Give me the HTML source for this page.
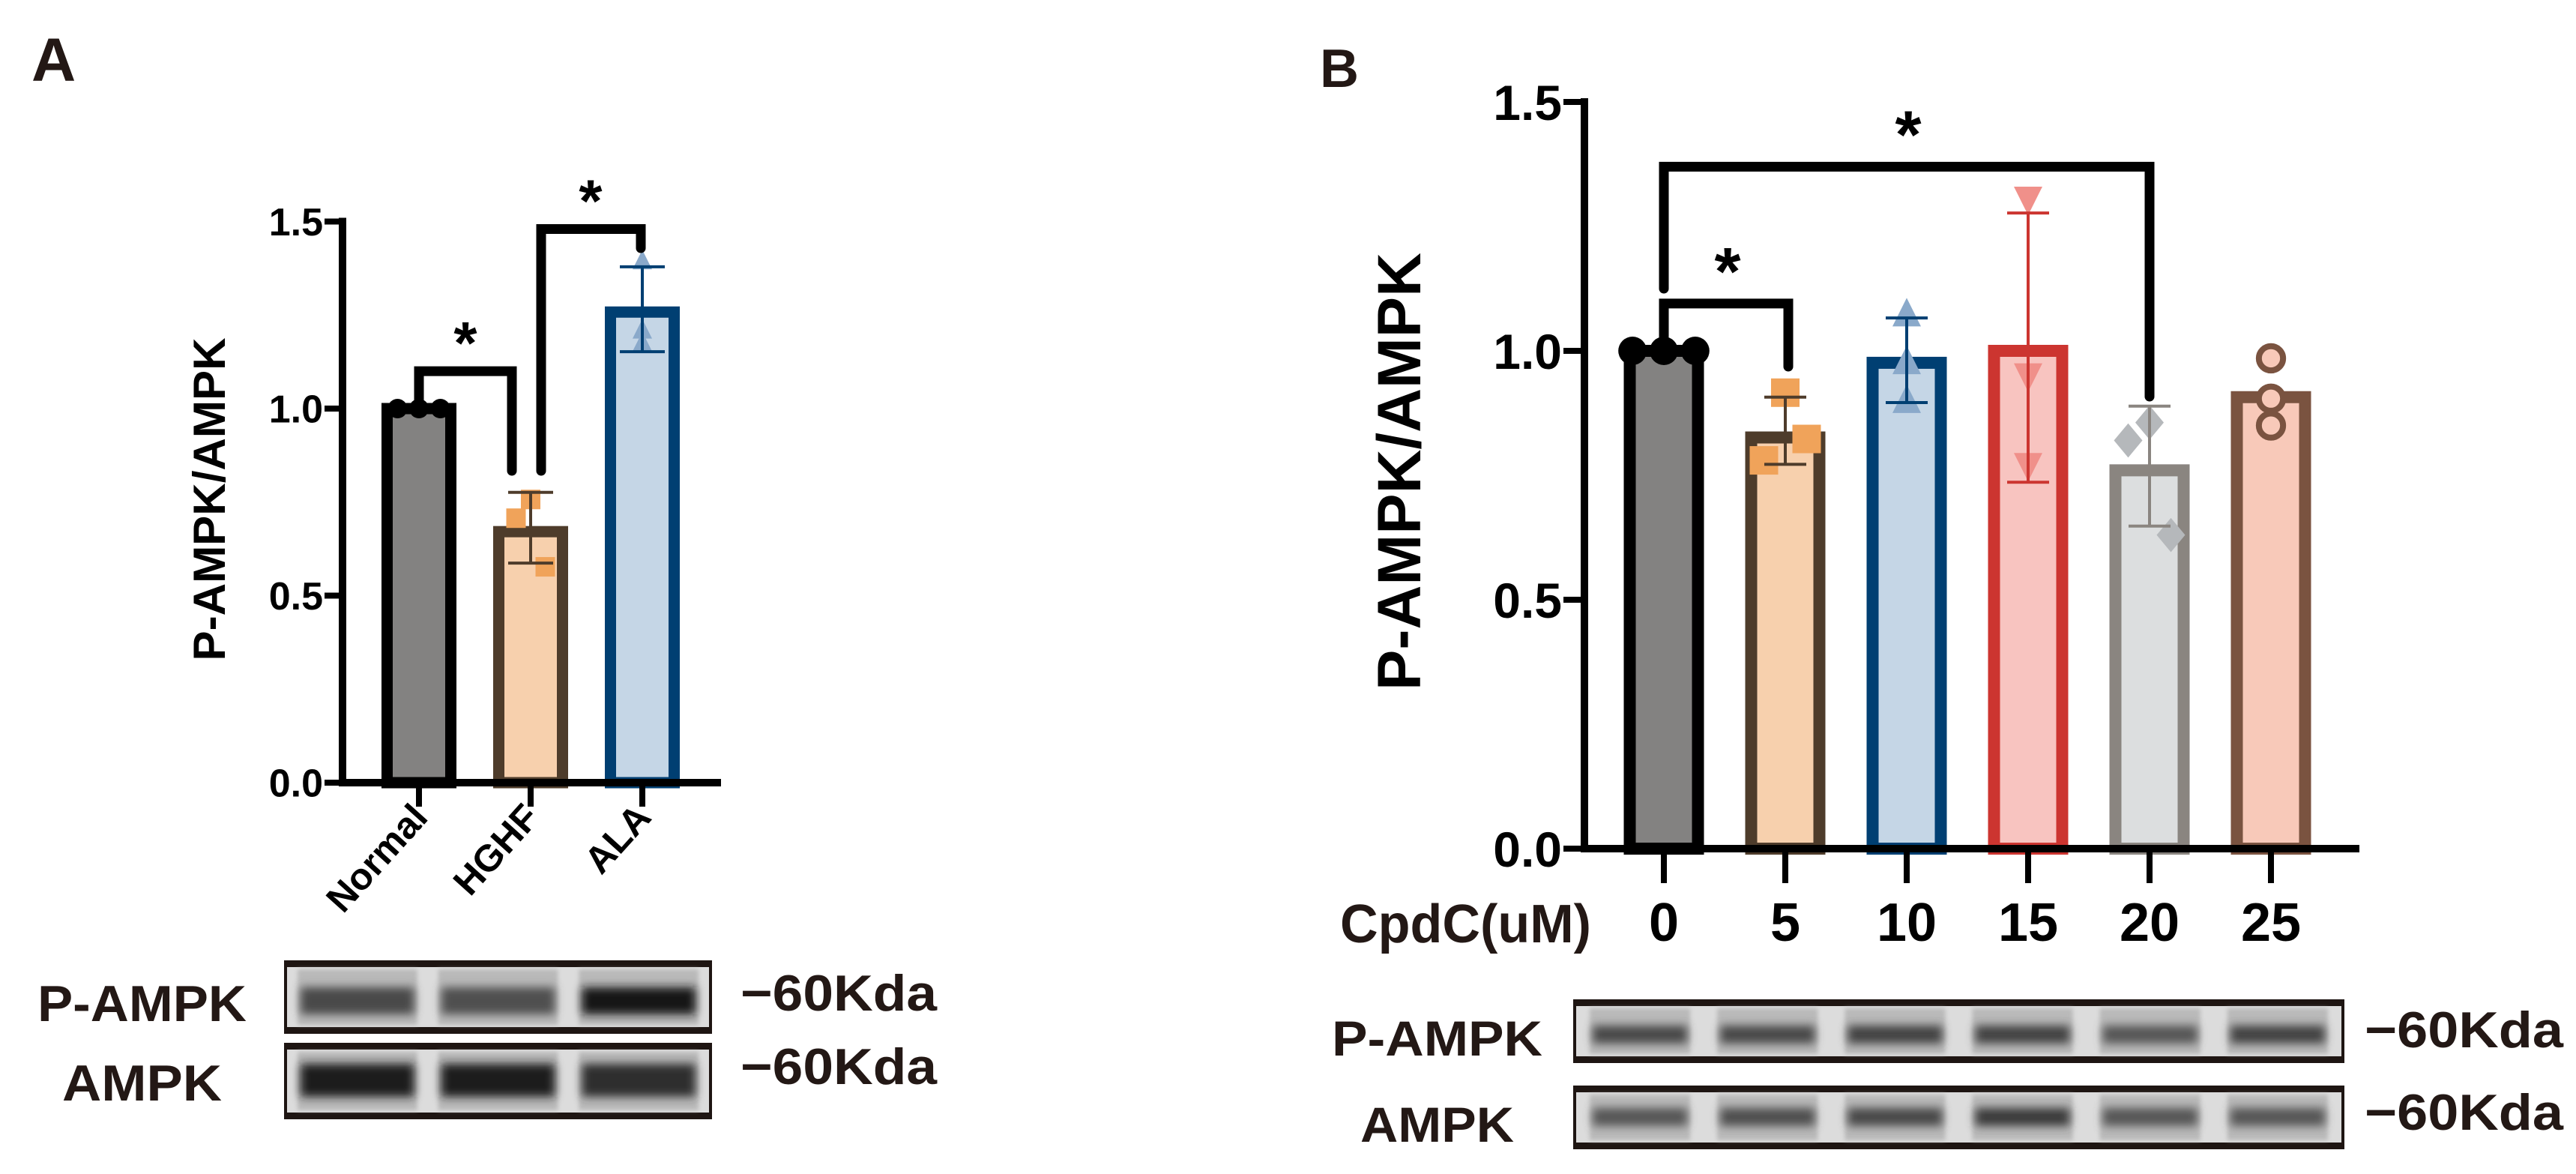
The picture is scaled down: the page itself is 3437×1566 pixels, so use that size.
<!DOCTYPE html>
<html><head><meta charset="utf-8">
<style>
html,body{margin:0;padding:0;background:#fff;}
svg{display:block;font-family:"Liberation Sans",Arial,sans-serif;}
</style></head>
<body>
<svg id="fig" width="3437" height="1566" viewBox="0 0 3437 1566" xmlns="http://www.w3.org/2000/svg">
<defs>
<filter id="blur6" x="-20%" y="-50%" width="140%" height="200%"><feGaussianBlur stdDeviation="6"/></filter>
<filter id="blur3" x="-20%" y="-50%" width="140%" height="200%"><feGaussianBlur stdDeviation="3"/></filter>
</defs>
<g id="panelA">
 <text x="42" y="108" font-size="82" font-weight="bold" fill="#231815">A</text>
 <text transform="translate(300,666) rotate(-90)" text-anchor="middle" font-size="60" font-weight="bold" fill="#000" textLength="431" lengthAdjust="spacingAndGlyphs">P-AMPK/AMPK</text>
</g>
<g id="panelB">
 <text x="1761" y="116" font-size="72" font-weight="bold" fill="#231815">B</text>
 <text transform="translate(1895,629) rotate(-90)" text-anchor="middle" font-size="82" font-weight="bold" fill="#000" textLength="584" lengthAdjust="spacingAndGlyphs">P-AMPK/AMPK</text>
 <text x="2123" y="1257" text-anchor="end" font-size="72" font-weight="bold" fill="#231815" textLength="335" lengthAdjust="spacingAndGlyphs">CpdC(uM)</text>
</g>
</svg>
<script>
// ---------- Panel A data ----------
const catsA = ["Normal","HGHF","ALA"];
const meansA = [1.0, 0.671, 1.258];
const errLoA = [1.0, 0.587, 1.152];
const errHiA = [1.0, 0.776, 1.379];
const ptsA = [[1.0,1.0,1.0],[0.757,0.707,0.577],[1.393,1.208,1.174]];
const ticksA = [0.0, 0.5, 1.0, 1.5];
const tickLabelsA = ["0.0","0.5","1.0","1.5"];
// ---------- Panel B data ----------
const catsB = ["0","5","10","15","20","25"];
const meansB = [1.0, 0.826, 0.976, 1.0, 0.76, 0.907];
const errLoB = [1.0, 0.772, 0.896, 0.736, 0.648, 0.907];
const errHiB = [1.0, 0.907, 1.066, 1.277, 0.889, 0.907];
const ptsB = [[1.0,1.0,1.0],[0.916,0.78,0.823],[1.072,0.976,0.898],[1.307,0.952,0.772],[0.856,0.82,0.63],[0.985,0.904,0.85]];
const ticksB = [0.0, 0.5, 1.0, 1.5];
const tickLabelsB = ["0.0","0.5","1.0","1.5"];

const NS = "http://www.w3.org/2000/svg";
const svg = document.getElementById("fig");
function mk(tag, attrs, parent){ const e=document.createElementNS(NS,tag); for(const k in attrs) e.setAttribute(k,attrs[k]); (parent||svg).appendChild(e); return e; }

const styleA = [
 {fill:"#838281",stroke:"#000",pt:"#000",shape:"circle"},
 {fill:"#f7d0ad",stroke:"#4e3c2b",pt:"#f0a35a",shape:"square"},
 {fill:"#c5d6e6",stroke:"#003f72",pt:"#8aa9ca",shape:"tri"}];
const styleB = [
 {fill:"#838281",stroke:"#000",pt:"#000",shape:"circle"},
 {fill:"#f7d0ad",stroke:"#4e3c2b",pt:"#f0a35a",shape:"square"},
 {fill:"#c5d6e6",stroke:"#003f72",pt:"#8aa9ca",shape:"tri"},
 {fill:"#f8c4c0",stroke:"#cc3530",pt:"#f0908a",shape:"itri"},
 {fill:"#dcdedf",stroke:"#8a8580",pt:"#b5b8bb",shape:"diamond"},
 {fill:"#f8c9b9",stroke:"#7a5340",pt:"#7a5340",shape:"ring"}];

function drawPoint(g, shape, cx, cy, r, col){
 let e;
 if(shape==="circle") e=mk("circle",{cx:cx,cy:cy,r:r,fill:col},g);
 else if(shape==="square") e=mk("rect",{x:cx-r,y:cy-r,width:2*r,height:2*r,fill:col},g);
 else if(shape==="tri") e=mk("polygon",{points:`${cx},${cy-r*1.2} ${cx-r},${cy+r*0.8} ${cx+r},${cy+r*0.8}`,fill:col},g);
 else if(shape==="itri") e=mk("polygon",{points:`${cx},${cy+r*1.2} ${cx-r},${cy-r*0.8} ${cx+r},${cy-r*0.8}`,fill:col},g);
 else if(shape==="diamond") e=mk("polygon",{points:`${cx},${cy-r*1.2} ${cx+r},${cy} ${cx},${cy+r*1.2} ${cx-r},${cy}`,fill:col},g);
 else e=mk("circle",{cx:cx,cy:cy,r:r*0.85,fill:"#f8c9b9",stroke:col,"stroke-width":8},g);
 
 
}

function drawChart(cfg){
 const g = mk("g",{});
 
 
 const y = v => cfg.y0 - v*cfg.unit;
 const x = i => cfg.x0 + i*cfg.step;
 cfg.means.forEach((m,i)=>{
  const s=cfg.styles[i], h=cfg.barW;
  const r=mk("rect",{x:x(i)-h/2+cfg.sw/2,y:y(m),width:h-cfg.sw,height:cfg.y0-y(m),fill:s.fill,stroke:s.stroke,"stroke-width":cfg.sw},g);
  
  
 });
 cfg.pts.forEach((arr,i)=>{
  const s=cfg.styles[i];
  arr.forEach((v,j)=>{
   let dx = 0;
   if(s.shape==="circle") dx=(j-1)*cfg.ptR*2.2;
   if(s.shape==="square"||s.shape==="diamond") dx = [0,-1.5,1.5][j]*cfg.ptR;
   drawPoint(g,s.shape,x(i)+dx,y(v),cfg.ptR,s.pt);
  });
 });
 cfg.means.forEach((m,i)=>{
  if(cfg.errHi[i]-cfg.errLo[i]<0.001) return;
  const s=cfg.styles[i];
  const e=mk("path",{d:`M${x(i)},${y(cfg.errHi[i])}V${y(cfg.errLo[i])}M${x(i)-cfg.capW},${y(cfg.errHi[i])}h${2*cfg.capW}M${x(i)-cfg.capW},${y(cfg.errLo[i])}h${2*cfg.capW}`,stroke:s.stroke,"stroke-width":cfg.ew,fill:"none"},g);
  
  
 });
 const ax=mk("path",{d:`M${cfg.axX},${y(1.5)-cfg.aw/2}V${cfg.y0}H${cfg.xEnd}`,stroke:"#000","stroke-width":cfg.aw,fill:"none"},g);
 
 
 cfg.ticks.forEach((t,k)=>{
  const tk=mk("line",{x1:cfg.axX-cfg.tickLen,x2:cfg.axX,y1:y(t),y2:y(t),stroke:"#000","stroke-width":cfg.aw*0.8},g);
  
  
  const tl=mk("text",{x:cfg.axX-cfg.tickLen-2,y:y(t)+cfg.tfs*0.36,"text-anchor":"end","font-size":cfg.tfs,"font-weight":"bold",fill:"#000"},g);
  tl.textContent=cfg.tickLabels[k];
  
  
 });
 cfg.cats.forEach((c,i)=>{
  const tk=mk("line",{x1:x(i),x2:x(i),y1:cfg.y0,y2:cfg.y0+cfg.xTickLen,stroke:"#000","stroke-width":cfg.aw*0.8},g);
  
  
  let tl;
  if(cfg.rotLabels){
   tl=mk("text",{transform:`translate(${x(i)+14},${cfg.labY}) rotate(-48)`,"text-anchor":"end","font-size":cfg.lfs,"font-weight":"bold",fill:"#000"},g);
  } else {
   tl=mk("text",{x:x(i),y:cfg.labY,"text-anchor":"middle","font-size":cfg.lfs,"font-weight":"bold",fill:"#000"},g);
  }
  tl.textContent=c;
  
  
 });
 cfg.brackets.forEach(b=>{
  const p=mk("path",{d:`M${x(b.i)+(b.idx||0)},${b.y1}V${y(b.top)}H${x(b.j)+(b.jdx||0)}V${b.y2}`,stroke:"#000","stroke-width":cfg.bw,fill:"none","stroke-linejoin":"miter","stroke-linecap":"round"},g);
  
  
  const st=mk("text",{x:b.sx,y:y(b.top)-cfg.starOff,"text-anchor":"middle","font-size":cfg.sfs,"font-weight":"bold",fill:"#000"},g);
  st.textContent="*";
  
  
 });
}

drawChart({name:"chart-a",cats:catsA,means:meansA,errLo:errLoA,errHi:errHiA,pts:ptsA,ticks:ticksA,tickLabels:tickLabelsA,
 styles:styleA,y0:1044,unit:499,x0:559,step:149,barW:100,sw:15,ptR:13,capW:30,ew:4,aw:10,axX:457,xEnd:962,tickLen:24,tfs:52,
 xTickLen:32,rotLabels:true,labY:1092,lfs:50,bw:13,sfs:80,starOff:10,
 brackets:[{i:0,j:1,jdx:-25,top:1.10,y1:548,y2:628,sx:621},{i:1,idx:14,j:2,jdx:-2,top:1.48,y1:628,y2:331,sx:788}]});

drawChart({name:"chart-b",cats:catsB,means:meansB,errLo:errLoB,errHi:errHiB,pts:ptsB,ticks:ticksB,tickLabels:tickLabelsB,
 styles:styleB,y0:1132,unit:664,x0:2220,step:162,barW:107,sw:16,ptR:19,capW:28,ew:4,aw:10,axX:2114,xEnd:3148,tickLen:28,tfs:66,
 xTickLen:46,rotLabels:false,labY:1255,lfs:72,bw:13,sfs:90,starOff:12,
 brackets:[{i:0,j:1,jdx:4,top:1.095,y1:449,y2:489,sx:2305},{i:0,j:4,jdx:0,top:1.37,y1:385,y2:529,sx:2546}]});

// ---------- Western blots ----------
const bandA_P = [0.55,0.5,0.9];
const bandA_T = [0.85,0.85,0.75];
const bandB_P = [0.55,0.55,0.6,0.6,0.45,0.6];
const bandB_T = [0.45,0.5,0.55,0.65,0.45,0.45];
function blot(name,x0,x1,yt,yb,bands,bandY,bandH,laneGap){
 const g=mk("g",{});
 
 
 mk("rect",{x:x0,y:yt,width:x1-x0,height:yb-yt,fill:"#1e1512"},g);
 mk("rect",{x:x0+4,y:yt+9,width:x1-x0-8,height:yb-yt-18,fill:"#dcdcdc"},g);
 const n=bands.length, lw=(x1-x0-8)/n;
 bands.forEach((d,i)=>{
  const lx=x0+4+i*lw+laneGap/2, w=lw-laneGap;
  mk("rect",{x:lx,y:yt+12,width:w,height:yb-yt-24,fill:"#b9b9b9",filter:"url(#blur3)"},g);
  const c=Math.round(150-140*d);
  mk("rect",{x:lx+4,y:bandY-bandH/2,width:w-8,height:bandH,fill:`rgb(${c},${c},${c})`,filter:"url(#blur6)"},g);
 });
}
blot("blot-a-p-ampk",379,950,1281,1379,bandA_P,1335,36,28);
blot("blot-a-ampk",379,950,1391,1493,bandA_T,1441,44,28);
blot("blot-b-p-ampk",2099,3128,1333,1418,bandB_P,1380,24,36);
blot("blot-b-ampk",2099,3128,1448,1533,bandB_T,1490,24,36);

function lab(txt,x,y,fs,w,name,anchor){
 const t=mk("text",{x:x,y:y,"font-size":fs,"font-weight":"bold",fill:"#231815",textLength:w,lengthAdjust:"spacingAndGlyphs","text-anchor":anchor||"start"});
 t.textContent=txt;
 
 
}
lab("P-AMPK",50,1362,68,279,"blot-a-p-ampk-label");
lab("AMPK",83,1468,68,213,"blot-a-ampk-label");
lab("−60Kda",988,1348,68,262,"blot-a-p-ampk-size");
lab("−60Kda",988,1446,68,262,"blot-a-ampk-size");
lab("P-AMPK",1777,1408,66,281,"blot-b-p-ampk-label");
lab("AMPK",1815,1523,66,205,"blot-b-ampk-label");
lab("−60Kda",3155,1397,68,265,"blot-b-p-ampk-size");
lab("−60Kda",3155,1507,68,265,"blot-b-ampk-size");
</script>
</body></html>
